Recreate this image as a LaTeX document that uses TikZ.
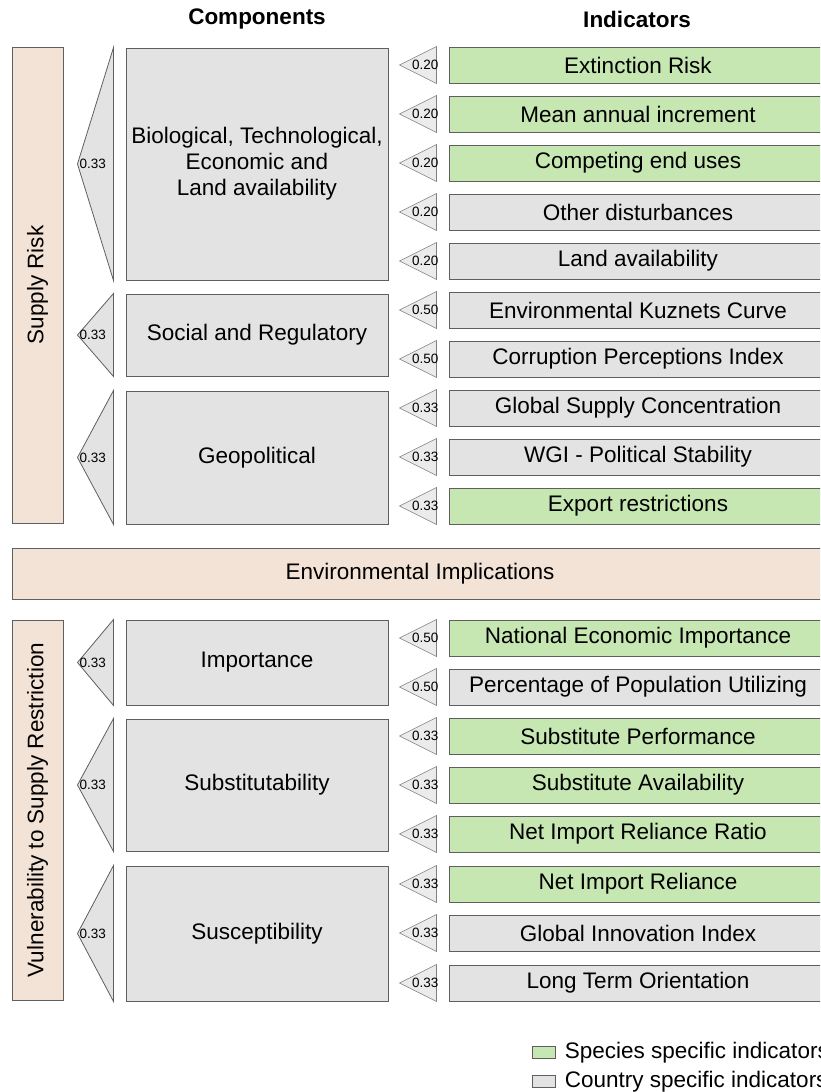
\documentclass[tikz,border=0pt]{standalone}
\usepackage{fontspec}
\setmainfont{Liberation Sans}
\usetikzlibrary{calc, positioning}

\definecolor{specgreen}{RGB}{198,230,178}
\definecolor{ctrygray}{RGB}{227,227,227}
\definecolor{lightpeach}{RGB}{243,227,214}
\definecolor{edgegray}{RGB}{95,95,95}

\begin{document}
\begin{tikzpicture}[x=1pt, y=-1pt,
        txt/.style = {font=\fontsize{22.5}{26}\selectfont},
        wtxt/.style = {font=\fontsize{13.5}{15}\selectfont, inner sep=0pt},
        compbox/.style = {txt, draw=edgegray, fill=ctrygray, line width=1pt, minimum width=262, inner sep=0pt, align=center},
        indbox/.style = {txt, draw=edgegray, line width=1pt, minimum width=378, minimum height=36, inner sep=0pt},
        catbar/.style = {txt, draw=edgegray, fill=lightpeach, line width=1pt, inner sep=0pt},
        bigtri/.style = {draw=edgegray, fill=ctrygray, line width=0.8pt},
        smalltri/.style = {draw=edgegray!80, fill=ctrygray!70, line width=0.6pt},
        legbox/.style = {draw=edgegray, line width=0.8pt, minimum width=23, minimum height=12, inner sep=0pt}]
    \useasboundingbox (0,0) rectangle (820,1092);
    \clip (0,0) rectangle (820,1092);

    % headings
    \node[txt, font=\fontsize{22.5}{26}\selectfont\bfseries] (hcomp) at (257,19) {Components};
    \node[txt, font=\fontsize{22.5}{26}\selectfont\bfseries] (hind) at (637,19) {Indicators};

    % categories
    \node[catbar, rotate=90, minimum width=476, minimum height=51] (sr) at (37.5,285) {Supply Risk};
    \node[catbar, minimum width=816, minimum height=51] (env) at (420,573.5) {Environmental Implications};
    \node[catbar, rotate=90, minimum width=380, minimum height=51] (vsr) at (37.5,810) {Vulnerability to Supply Restriction};

    % components
    \node[compbox, minimum height=232] (c1) at (257,164) {Biological, Technological,\\Economic and\\Land availability};
    \node[compbox, minimum height=82] (c2) at (257,335) {Social and Regulatory};
    \node[compbox, minimum height=133] (c3) at (257,457.5) {Geopolitical};
    \node[compbox, minimum height=85] (c4) at (257,662.5) {Importance};
    \node[compbox, minimum height=132] (c5) at (257,785) {Substitutability};
    \node[compbox, minimum height=135] (c6) at (257,933.5) {Susceptibility};

    \foreach \c in {c1,c2,c3,c4,c5,c6} {
        \draw[bigtri] ([xshift=-12pt]\c.north west) -- ([xshift=-48pt]\c.west) -- ([xshift=-12pt]\c.south west) -- cycle;
        \node[wtxt, anchor=west] at ([xshift=-46pt]\c.west) {0.33};
    }

    % indicators
    \foreach \t/\lbl/\col/\w [count=\i] in {
            47/Extinction Risk/specgreen/0.20,
            96/Mean annual increment/specgreen/0.20,
            145/Competing end uses/specgreen/0.20,
            194/Other disturbances/ctrygray/0.20,
            243/Land availability/ctrygray/0.20,
            292/Environmental Kuznets Curve/ctrygray/0.50,
            341/Corruption Perceptions Index/ctrygray/0.50,
            390/Global Supply Concentration/ctrygray/0.33,
            439/WGI - Political Stability/ctrygray/0.33,
            488/Export restrictions/specgreen/0.33,
            620/National Economic Importance/specgreen/0.50,
            669/Percentage of Population Utilizing/ctrygray/0.50,
            718/Substitute Performance/specgreen/0.33,
            767/Substitute Availability/specgreen/0.33,
            816/Net Import Reliance Ratio/specgreen/0.33,
            866/Net Import Reliance/specgreen/0.33,
            915/Global Innovation Index/ctrygray/0.33,
            965/Long Term Orientation/ctrygray/0.33} {
        \node[indbox, fill=\col] (ind\i) at (638,\t+18) {\lbl};
        \draw[smalltri] ([xshift=-12pt]ind\i.north west) -- ([xshift=-49pt]ind\i.west) -- ([xshift=-12pt]ind\i.south west) -- cycle;
        \node[wtxt, anchor=east] at ([xshift=-10pt]ind\i.west) {\w};
    }

    % legend
    \node[legbox, fill=specgreen] (lg1) at (543.5,1052.5) {};
    \node[legbox, fill=ctrygray] (lg2) at (543.5,1081.5) {};
    \node[txt, anchor=west, right=6pt of lg1] (lt1) {Species specific indicators};
    \node[txt, anchor=west, right=6pt of lg2] (lt2) {Country specific indicators};
\end{tikzpicture}
\end{document}
